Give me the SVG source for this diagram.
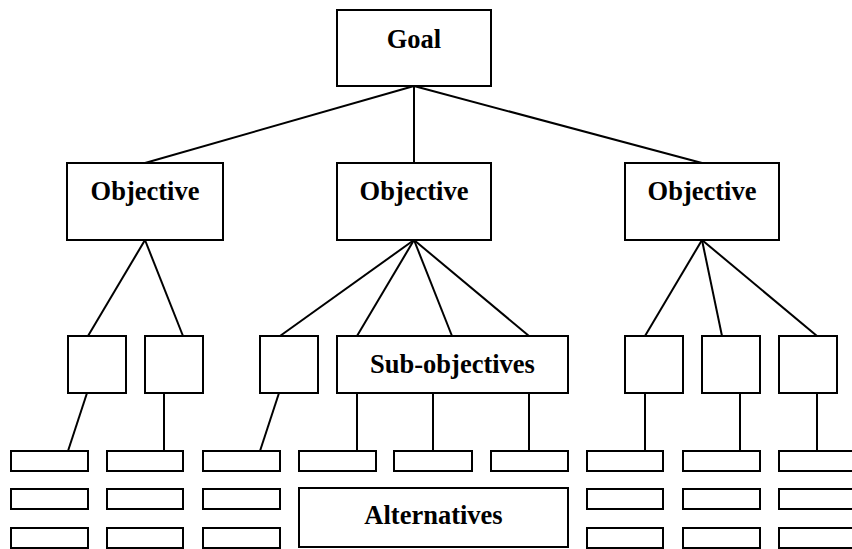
<svg xmlns="http://www.w3.org/2000/svg" width="852" height="549" viewBox="0 0 852 549">
<style>
.b{fill:#fff;stroke:#000;stroke-width:2}
.t{font-family:"Liberation Serif","Times New Roman",serif;font-weight:bold;font-size:26.5px;text-anchor:middle;fill:#000}
#connectors line{stroke:#000;stroke-width:2}
</style>
<rect width="852" height="549" fill="#fff"/>
<g id="connectors">
<line x1="414" y1="86" x2="145" y2="163"/>
<line x1="414" y1="86" x2="414" y2="163"/>
<line x1="414" y1="86" x2="702" y2="163"/>
<line x1="145" y1="240" x2="88" y2="336"/>
<line x1="145" y1="240" x2="183" y2="336"/>
<line x1="414" y1="240" x2="280" y2="336"/>
<line x1="414" y1="240" x2="357" y2="336"/>
<line x1="414" y1="240" x2="452" y2="336"/>
<line x1="414" y1="240" x2="529" y2="336"/>
<line x1="702" y1="240" x2="645" y2="336"/>
<line x1="702" y1="240" x2="722" y2="336"/>
<line x1="702" y1="240" x2="817" y2="336"/>
<line x1="87" y1="393" x2="68" y2="451"/>
<line x1="164" y1="393" x2="164" y2="451"/>
<line x1="279" y1="393" x2="260" y2="451"/>
<line x1="357" y1="393" x2="357" y2="451"/>
<line x1="433" y1="393" x2="433" y2="451"/>
<line x1="529" y1="393" x2="529" y2="451"/>
<line x1="645" y1="393" x2="645" y2="451"/>
<line x1="740" y1="393" x2="740" y2="451"/>
<line x1="817" y1="393" x2="817" y2="451"/>
</g>
<g id="goal"><rect class="b" x="337" y="10" width="154" height="76"/><text class="t" x="414" y="48">Goal</text></g>
<g id="objective1"><rect class="b" x="67" y="163" width="156" height="77"/><text class="t" x="145" y="200">Objective</text></g>
<g id="objective2"><rect class="b" x="337" y="163" width="154" height="77"/><text class="t" x="414" y="200">Objective</text></g>
<g id="objective3"><rect class="b" x="625" y="163" width="154" height="77"/><text class="t" x="702" y="200">Objective</text></g>
<g id="sub1"><rect class="b" x="68" y="336" width="58" height="57"/></g>
<g id="sub2"><rect class="b" x="145" y="336" width="58" height="57"/></g>
<g id="sub3"><rect class="b" x="260" y="336" width="58" height="57"/></g>
<g id="subobjectives"><rect class="b" x="337" y="336" width="231" height="57"/><text class="t" x="452.5" y="373">Sub-objectives</text></g>
<g id="sub5"><rect class="b" x="625" y="336" width="58" height="57"/></g>
<g id="sub6"><rect class="b" x="702" y="336" width="58" height="57"/></g>
<g id="sub7"><rect class="b" x="779" y="336" width="58" height="57"/></g>
<g id="alt-row1">
<rect class="b" x="11" y="451" width="77" height="20"/>
<rect class="b" x="107" y="451" width="76" height="20"/>
<rect class="b" x="203" y="451" width="77" height="20"/>
<rect class="b" x="299" y="451" width="77" height="20"/>
<rect class="b" x="394" y="451" width="78" height="20"/>
<rect class="b" x="491" y="451" width="77" height="20"/>
<rect class="b" x="587" y="451" width="76" height="20"/>
<rect class="b" x="683" y="451" width="77" height="20"/>
<rect class="b" x="779" y="451" width="77" height="20"/>
</g>
<g id="alt-row2">
<rect class="b" x="11" y="489" width="77" height="20"/>
<rect class="b" x="107" y="489" width="76" height="20"/>
<rect class="b" x="203" y="489" width="77" height="20"/>
<rect class="b" x="587" y="489" width="76" height="20"/>
<rect class="b" x="683" y="489" width="77" height="20"/>
<rect class="b" x="779" y="489" width="77" height="20"/>
</g>
<g id="alt-row3">
<rect class="b" x="11" y="528" width="77" height="20"/>
<rect class="b" x="107" y="528" width="76" height="20"/>
<rect class="b" x="203" y="528" width="77" height="20"/>
<rect class="b" x="587" y="528" width="76" height="20"/>
<rect class="b" x="683" y="528" width="77" height="20"/>
<rect class="b" x="779" y="528" width="77" height="20"/>
</g>
<g id="alternatives"><rect class="b" x="299" y="488" width="269" height="59"/><text class="t" x="433.5" y="524">Alternatives</text></g>
</svg>
